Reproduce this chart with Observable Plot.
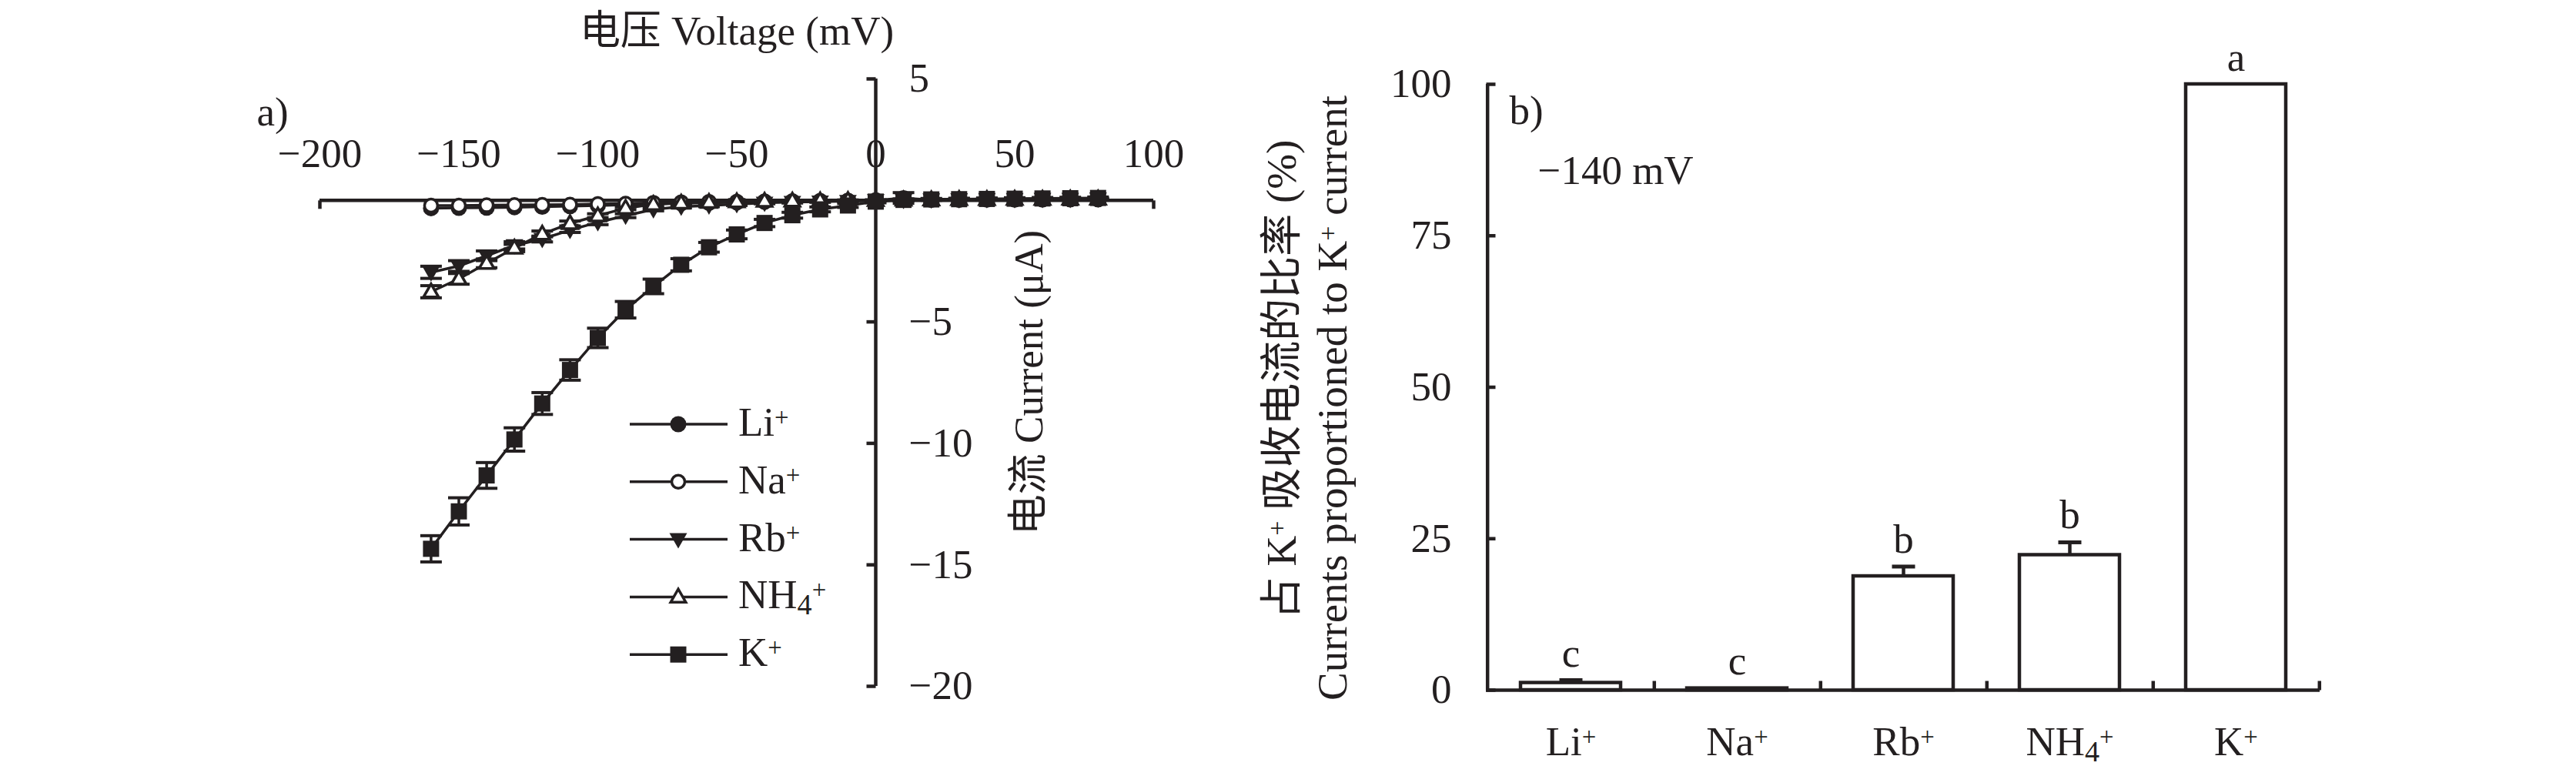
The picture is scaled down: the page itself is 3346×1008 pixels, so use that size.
<!DOCTYPE html>
<html><head><meta charset="utf-8">
<script src="https://cdn.jsdelivr.net/npm/d3@7"></script>
<script src="https://cdn.jsdelivr.net/npm/@observablehq/plot@0.6"></script>
<style>
html,body{margin:0;padding:0;background:#fff;}
#root{position:relative;width:3346px;height:1008px;overflow:hidden;background:#fff;}
#root > div, #root > svg{position:absolute;top:0;}
</style></head><body><div id="root"></div>
<script>
// ---------------- data: panel a (I–V curves) ----------------
const voltages = [-160,-150,-140,-130,-120,-110,-100,-90,-80,-70,-60,-50,-40,-30,-20,-10,0,10,20,30,40,50,60,70,80];
const seriesNames = ["Li⁺","Na⁺","Rb⁺","NH₄⁺","K⁺"];
const currentLi  = [-0.32,-0.31,-0.30,-0.28,-0.26,-0.24,-0.21,-0.18,-0.15,-0.12,-0.10,-0.08,-0.06,-0.05,-0.03,-0.02,0.00,0.02,0.03,0.03,0.04,0.04,0.05,0.05,0.05];
const errLi      = [0,0,0,0,0,0,0,0,0,0,0,0,0,0,0,0,0,0,0,0,0,0,0,0,0];
const currentNa  = [-0.21,-0.21,-0.20,-0.19,-0.18,-0.17,-0.15,-0.13,-0.10,-0.08,-0.06,-0.05,-0.04,-0.03,-0.02,-0.01,0.00,0.10,0.02,0.02,0.03,0.03,0.03,0.04,0.04];
const errNa      = [0,0,0,0,0,0,0,0,0,0,0,0,0,0,0,0,0,0.22,0,0,0,0,0,0,0];
const currentRb  = [-2.96,-2.70,-2.28,-1.85,-1.59,-1.22,-0.90,-0.63,-0.37,-0.26,-0.21,-0.16,-0.10,-0.07,-0.05,-0.03,0.00,0.02,0.03,0.04,0.05,0.05,0.06,0.06,0.07];
const errRb      = [0.25,0.22,0.20,0.15,0.12,0.10,0.10,0.08,0.06,0.05,0.05,0.05,0.04,0.04,0.03,0.03,0.02,0.02,0.02,0.02,0.02,0.02,0.02,0.02,0.02];
const currentNH4 = [-3.76,-3.23,-2.59,-1.96,-1.38,-0.95,-0.63,-0.32,-0.16,-0.11,-0.08,-0.05,-0.03,-0.02,-0.01,0.00,0.00,0.02,0.03,0.04,0.04,0.05,0.05,0.06,0.06];
const errNH4     = [0.25,0.22,0.18,0.15,0.12,0.10,0.08,0.06,0.05,0.04,0.04,0.03,0.03,0.02,0.02,0.02,0.02,0.02,0.02,0.02,0.02,0.02,0.02,0.02,0.02];
const currentK   = [-14.34,-12.80,-11.32,-9.84,-8.36,-6.98,-5.66,-4.50,-3.54,-2.65,-1.93,-1.40,-0.93,-0.61,-0.37,-0.21,-0.05,0.02,0.04,0.05,0.06,0.07,0.08,0.09,0.10];
const errK       = [0.54,0.56,0.53,0.48,0.45,0.42,0.40,0.34,0.30,0.25,0.20,0.18,0.15,0.12,0.10,0.08,0.05,0.04,0.04,0.04,0.04,0.04,0.04,0.04,0.04];
const xTickValuesA = [-200,-150,-100,-50,0,50,100];
const yTickValuesA = [5,-5,-10,-15,-20];
const xTitleA = "电压 Voltage (mV)";
const yTitleA = "电流 Current (μA)";
const panelLabelA = "a)";

// ---------------- data: panel b (bars) ----------------
const ions = ["Li⁺","Na⁺","Rb⁺","NH₄⁺","K⁺"];
const ratio = [1.2, 0.3, 18.8, 22.3, 100];
const ratioErr = [0.45, 0, 1.6, 2.1, 0];
const letters = ["c","c","b","b","a"];
const yTickValuesB = [0,25,50,75,100];
const yTitleB1 = "占 K⁺ 吸收电流的比率 (%)";
const yTitleB2 = "Currents proportioned to K⁺ current";
const panelLabelB = "b)";
const noteB = "−140 mV";

// ---------------- styling ----------------
const ink = "#231f20";
const FONT = '"Liberation Serif","Times New Roman","Noto Sans CJK SC",serif';
const FS = 53;
const fmt = d => d < 0 ? "−" + Math.abs(d) : String(d);
const rad = s => Math.sqrt(s / Math.PI);
const sym = {
  square: {draw(c,s){const r=rad(s); c.rect(-r,-r,2*r,2*r);}},
  down:   {draw(c,s){const r=rad(s); c.moveTo(-1.15*r,-0.8*r); c.lineTo(1.15*r,-0.8*r); c.lineTo(0,1.2*r); c.closePath();}},
  up:     {draw(c,s){const r=rad(s); c.moveTo(-1.15*r,0.8*r); c.lineTo(1.15*r,0.8*r); c.lineTo(0,-1.2*r); c.closePath();}},
  hcap:   {draw(c,s){const r=rad(s); c.moveTo(-r,0); c.lineTo(r,0);}},
  tDown:  {draw(c,s){const r=rad(s); c.moveTo(0,0); c.lineTo(0,r);}},
  tUp:    {draw(c,s){const r=rad(s); c.moveTo(0,0); c.lineTo(0,-r);}},
  tLeft:  {draw(c,s){const r=rad(s); c.moveTo(0,0); c.lineTo(-r,0);}},
  tRight: {draw(c,s){const r=rad(s); c.moveTo(0,0); c.lineTo(r,0);}}
};
const markerStyle = [
  {symbol:"circle", r:10.5, fill:ink, stroke:"none"},
  {symbol:"circle", r:8.5, fill:"white", stroke:ink, strokeWidth:3.5},
  {symbol:sym.down, r:10, fill:ink, stroke:"none"},
  {symbol:sym.up, r:8.5, fill:"white", stroke:ink, strokeWidth:3.5},
  {symbol:sym.square, r:10.5, fill:ink, stroke:"none"}
];
const svgStyle = {fontFamily: FONT, fontSize: FS+"px", background:"transparent", overflow:"visible", color: ink};

const seriesValues = [currentLi, currentNa, currentRb, currentNH4, currentK];
const seriesErrs = [errLi, errNa, errRb, errNH4, errK];
const rows = seriesNames.flatMap((s,i) => voltages.map((v,j) => ({series:s, idx:i, v, I:seriesValues[i][j], e:seriesErrs[i][j]})));
const errRows = rows.filter(d => d.e > 0);

const root = document.getElementById("root");

// ---------------- panel a ----------------
const A = {width:1580, height:1008, mL:415, mR:82, mT:102, mB:117};
const plotA = Plot.plot({
  width:A.width, height:A.height, marginLeft:A.mL, marginRight:A.mR, marginTop:A.mT, marginBottom:A.mB,
  style: svgStyle,
  x:{domain:d3.extent(xTickValuesA), axis:null},
  y:{domain:d3.extent(yTickValuesA), axis:null},
  marks:[
    Plot.ruleY([0], {y:d=>d, x1:()=>xTickValuesA[0], x2:()=>xTickValuesA.at(-1), stroke:ink, strokeWidth:4.5}),
    Plot.ruleX([0], {x:d=>d, y1:()=>d3.min(yTickValuesA), y2:()=>d3.max(yTickValuesA), stroke:ink, strokeWidth:4.5}),
    Plot.dot([xTickValuesA[0], xTickValuesA.at(-1)], {x:d=>d, y:()=>0, symbol:sym.tDown, r:11, fill:"none", stroke:ink, strokeWidth:4.5}),
    Plot.dot(yTickValuesA, {x:()=>0, y:d=>d, symbol:sym.tLeft, r:12, fill:"none", stroke:ink, strokeWidth:4.5}),
    Plot.text(xTickValuesA, {x:d=>d, y:()=>0, dy:-43, text:fmt, lineAnchor:"bottom", fontSize:FS, fill:ink}),
    Plot.text(yTickValuesA, {x:()=>0, y:d=>d, dx:43, text:fmt, textAnchor:"start", lineAnchor:"middle", fontSize:FS, fill:ink}),
    Plot.text([xTitleA], {text:d=>d, frameAnchor:"top", dy:-45, textAnchor:"middle", lineAnchor:"bottom", fontSize:FS, fill:ink}),
    Plot.text([yTitleA], {text:d=>d, x:()=>0, frameAnchor:"middle", dx:200, rotate:-90, textAnchor:"middle", lineAnchor:"middle", fontSize:FS, fill:ink}),
    Plot.text([panelLabelA], {text:d=>d, frameAnchor:"top-left", dx:-82, dy:60, textAnchor:"start", lineAnchor:"bottom", fontSize:FS, fill:ink}),
    Plot.line(rows, {x:"v", y:"I", z:"series", stroke:ink, strokeWidth:3.5}),
    Plot.ruleX(errRows, {x:"v", y1:d=>d.I-d.e, y2:d=>d.I+d.e, stroke:ink, strokeWidth:3.5}),
    Plot.dot(errRows, {x:"v", y:d=>d.I-d.e, symbol:sym.hcap, r:14, fill:"none", stroke:ink, strokeWidth:4}),
    Plot.dot(errRows, {x:"v", y:d=>d.I+d.e, symbol:sym.hcap, r:14, fill:"none", stroke:ink, strokeWidth:4}),
    ...seriesNames.map((s,i) => Plot.dot(rows.filter(d => d.idx === i), {x:"v", y:"I", ...markerStyle[i]}))
  ]
});
const divA = document.createElement("div");
divA.style.left = "0px"; divA.style.width = A.width+"px";
divA.appendChild(plotA); root.appendChild(divA);

// ---------------- panel b ----------------
const B = {left:1580, width:1766, height:1008, mL:350, mR:333, mT:109, mB:112};
const step = (B.width - B.mL - B.mR) / ions.length;
const barRows = ions.map((ion,i) => ({ion, val:ratio[i], err:ratioErr[i], letter:letters[i]}));
const barErr = barRows.filter(d => d.err > 0);
const plotB = Plot.plot({
  width:B.width, height:B.height, marginLeft:B.mL, marginRight:B.mR, marginTop:B.mT, marginBottom:B.mB,
  style: svgStyle,
  x:{domain:ions, paddingInner:0.4, paddingOuter:0.2, axis:null},
  y:{domain:d3.extent(yTickValuesB), axis:null},
  marks:[
    Plot.barY(barRows, {x:"ion", y:"val", fill:"white", stroke:ink, strokeWidth:4.5}),
    Plot.ruleX(barErr, {x:"ion", y1:"val", y2:d=>d.val+d.err, stroke:ink, strokeWidth:4.5}),
    Plot.dot(barErr, {x:"ion", y:d=>d.val+d.err, symbol:sym.hcap, r:15, fill:"none", stroke:ink, strokeWidth:5}),
    Plot.ruleY([0], {y:d=>d, stroke:ink, strokeWidth:4.5}),
    Plot.ruleX([ions[0]], {x:d=>d, dx:-step/2, y1:()=>d3.min(yTickValuesB), y2:()=>d3.max(yTickValuesB), stroke:ink, strokeWidth:4.5}),
    Plot.dot(ions, {x:d=>d, y:()=>0, dx:step/2, symbol:sym.tUp, r:12, fill:"none", stroke:ink, strokeWidth:4.5}),
    Plot.dot(yTickValuesB, {y:d=>d, frameAnchor:"left", symbol:sym.tRight, r:12, fill:"none", stroke:ink, strokeWidth:4.5}),
    Plot.text(yTickValuesB, {y:d=>d, frameAnchor:"left", dx:-45, text:fmt, textAnchor:"end", lineAnchor:"middle", fontSize:FS, fill:ink}),
    Plot.text(ions, {x:d=>d, y:()=>0, dy:84, text:d=>d, lineAnchor:"bottom", fontSize:FS, fill:ink}),
    Plot.text(barRows, {x:"ion", y:d=>d.val+d.err, dy:-18, text:"letter", lineAnchor:"bottom", fontSize:FS, fill:ink}),
    Plot.text([panelLabelB], {text:d=>d, frameAnchor:"top-left", dx:30, dy:51, textAnchor:"start", lineAnchor:"bottom", fontSize:FS, fill:ink}),
    Plot.text([noteB], {text:d=>d, frameAnchor:"top-left", dx:67, dy:129, textAnchor:"start", lineAnchor:"bottom", fontSize:FS, fill:ink}),
    Plot.text([yTitleB1], {text:d=>d, frameAnchor:"left", dx:-265, dy:-10, rotate:-90, textAnchor:"middle", lineAnchor:"middle", fontSize:55, fill:ink}),
    Plot.text([yTitleB2], {text:d=>d, frameAnchor:"left", dx:-199, dy:14, rotate:-90, textAnchor:"middle", lineAnchor:"middle", fontSize:55, fill:ink})
  ]
});
const divB = document.createElement("div");
divB.style.left = B.left+"px"; divB.style.width = B.width+"px";
divB.appendChild(plotB); root.appendChild(divB);

// ---------------- legend for panel a ----------------
const LG = {x0:818, x1:945, xm:881, xt:959, y0:551, dy:74.8};
const leg = d3.select(root).append("svg")
  .attr("width",3346).attr("height",1008).style("left","0px")
  .style("font-family",FONT).style("font-size",FS+"px").style("pointer-events","none");
seriesNames.forEach((s,i) => {
  const y = LG.y0 + i*LG.dy;
  const g = leg.append("g");
  g.append("line").attr("x1",LG.x0).attr("x2",LG.x1).attr("y1",y).attr("y2",y).attr("stroke",ink).attr("stroke-width",3.5);
  const m = markerStyle[i];
  const type = m.symbol === "circle" ? d3.symbolCircle : m.symbol;
  g.append("path").attr("d", d3.symbol(type, Math.PI*m.r*m.r)())
    .attr("transform",`translate(${LG.xm},${y})`)
    .attr("fill", m.fill).attr("stroke", m.stroke).attr("stroke-width", m.strokeWidth || 0);
  g.append("text").attr("x",LG.xt).attr("y",y+15).attr("fill",ink).text(s);
});

// ---------------- superscript / subscript rendering ----------------
function richify(container){
  const NS = "http://www.w3.org/2000/svg";
  container.querySelectorAll("text").forEach(t => {
    const s = t.textContent;
    if (!/[⁺₄]/.test(s)) return;
    while (t.firstChild) t.removeChild(t.firstChild);
    let buf = "";
    const add = (str, shift, size) => {
      const ts = document.createElementNS(NS,"tspan");
      ts.textContent = str;
      if (shift) { ts.setAttribute("baseline-shift", shift); ts.style.fontSize = size; }
      t.appendChild(ts);
    };
    for (const ch of s) {
      if (ch === "⁺") { if (buf) add(buf); buf = ""; add("+", "38%", "62%"); }
      else if (ch === "₄") { if (buf) add(buf); buf = ""; add("4", "-22%", "72%"); }
      else buf += ch;
    }
    if (buf) add(buf);
  });
}
richify(root);
</script></body></html>
